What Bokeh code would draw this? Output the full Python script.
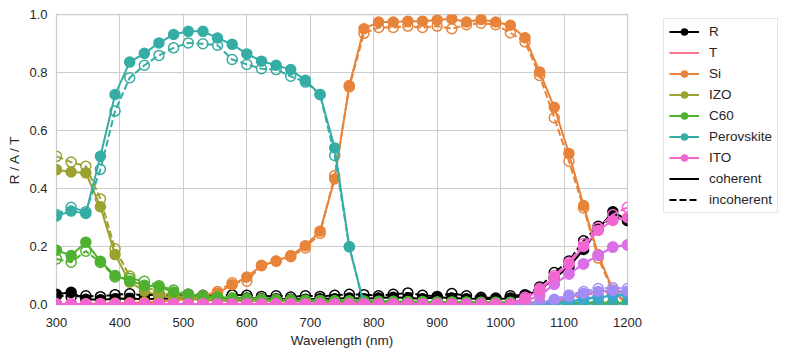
from bokeh.plotting import figure
from bokeh.models import Legend, LegendItem, Range1d, NumeralTickFormatter, FixedTicker
from bokeh.embed import file_html
from bokeh.resources import INLINE

wavelength = [300.0, 323.1, 346.2, 369.2, 392.3, 415.4, 438.5, 461.5, 484.6, 507.7,
              530.8, 553.8, 576.9, 600.0, 623.1, 646.2, 669.2, 692.3, 715.4, 738.5,
              761.5, 784.6, 807.7, 830.8, 853.8, 876.9, 900.0, 923.1, 946.2, 969.2,
              992.3, 1015.4, 1038.5, 1061.5, 1084.6, 1107.7, 1130.8, 1153.8, 1176.9, 1200.0]

R_coh = [0.035, 0.042, 0.018, 0.016, 0.020, 0.021, 0.018, 0.020, 0.021, 0.022,
         0.020, 0.022, 0.020, 0.022, 0.020, 0.020, 0.018, 0.018, 0.020, 0.020,
         0.022, 0.020, 0.022, 0.025, 0.022, 0.020, 0.025, 0.022, 0.020, 0.020,
         0.018, 0.022, 0.030, 0.050, 0.090, 0.130, 0.190, 0.260, 0.320, 0.290]
R_inc = [0.030, 0.028, 0.030, 0.027, 0.034, 0.037, 0.031, 0.036, 0.030, 0.035,
         0.032, 0.030, 0.033, 0.032, 0.028, 0.030, 0.026, 0.030, 0.028, 0.032,
         0.035, 0.034, 0.030, 0.035, 0.040, 0.032, 0.028, 0.038, 0.030, 0.025,
         0.022, 0.030, 0.034, 0.060, 0.110, 0.150, 0.220, 0.270, 0.300, 0.290]

T_coh = [0, 0, 0, 0, 0, 0, 0, 0, 0, 0,
         0, 0, 0, 0, 0, 0, 0, 0, 0, 0,
         0, 0, 0, 0, 0, 0, 0, 0, 0, 0,
         0, 0, 0, 0.003, 0.010, 0.025, 0.038, 0.045, 0.047, 0.045]
T_inc = [0, 0, 0, 0, 0, 0, 0, 0, 0, 0,
         0, 0, 0, 0, 0, 0, 0, 0, 0, 0,
         0, 0, 0, 0, 0, 0, 0, 0, 0, 0,
         0, 0, 0, 0.002, 0.008, 0.020, 0.032, 0.040, 0.043, 0.042]

Si_coh = [0.002, 0.002, 0.002, 0.003, 0.004, 0.005, 0.007, 0.010, 0.015, 0.020,
          0.030, 0.040, 0.068, 0.095, 0.134, 0.149, 0.169, 0.203, 0.253, 0.433,
          0.755, 0.951, 0.974, 0.974, 0.977, 0.977, 0.981, 0.985, 0.974, 0.983,
          0.974, 0.963, 0.920, 0.802, 0.680, 0.521, 0.341, 0.172, 0.050, 0.000]
Si_inc = [0.002, 0.002, 0.002, 0.003, 0.004, 0.005, 0.007, 0.010, 0.015, 0.020,
          0.030, 0.045, 0.075, 0.080, 0.135, 0.150, 0.165, 0.195, 0.245, 0.445,
          0.750, 0.935, 0.955, 0.955, 0.960, 0.955, 0.960, 0.951, 0.965, 0.970,
          0.965, 0.937, 0.905, 0.790, 0.644, 0.494, 0.333, 0.160, 0.045, 0.000]

IZO_coh = [0.465, 0.457, 0.454, 0.337, 0.172, 0.077, 0.046, 0.032, 0.025, 0.020,
           0.015, 0.013, 0.012, 0.012, 0.011, 0.010, 0.010, 0.010, 0.009, 0.009,
           0.008, 0.008, 0.008, 0.007, 0.007, 0.007, 0.006, 0.006, 0.006, 0.006,
           0.005, 0.005, 0.005, 0.005, 0.005, 0.005, 0.005, 0.005, 0.005, 0.005]
IZO_inc = [0.511, 0.491, 0.477, 0.364, 0.192, 0.098, 0.063, 0.042, 0.032, 0.025,
           0.020, 0.018, 0.016, 0.015, 0.014, 0.013, 0.012, 0.012, 0.011, 0.011,
           0.010, 0.010, 0.009, 0.009, 0.009, 0.008, 0.008, 0.008, 0.007, 0.007,
           0.007, 0.006, 0.006, 0.006, 0.006, 0.006, 0.006, 0.006, 0.006, 0.006]

C60_coh = [0.187, 0.169, 0.215, 0.149, 0.100, 0.081, 0.066, 0.061, 0.043, 0.031,
           0.028, 0.025, 0.022, 0.020, 0.018, 0.016, 0.015, 0.014, 0.013, 0.012,
           0.012, 0.011, 0.010, 0.010, 0.009, 0.009, 0.008, 0.008, 0.008, 0.007,
           0.007, 0.007, 0.006, 0.006, 0.006, 0.006, 0.006, 0.006, 0.005, 0.005]
C60_inc = [0.157, 0.146, 0.184, 0.145, 0.095, 0.090, 0.080, 0.065, 0.050, 0.035,
           0.030, 0.026, 0.022, 0.020, 0.018, 0.017, 0.016, 0.015, 0.014, 0.013,
           0.012, 0.012, 0.011, 0.011, 0.010, 0.010, 0.009, 0.009, 0.009, 0.008,
           0.008, 0.008, 0.007, 0.007, 0.007, 0.007, 0.007, 0.006, 0.006, 0.006]

Perovskite_coh = [0.305, 0.322, 0.314, 0.511, 0.724, 0.836, 0.866, 0.902, 0.931, 0.942,
                  0.942, 0.919, 0.897, 0.864, 0.839, 0.825, 0.810, 0.773, 0.724, 0.540,
                  0.199, 0.000, 0, 0, 0, 0, 0, 0, 0, 0,
                  0, 0, 0, 0, 0, 0, 0, 0, 0, 0]
Perovskite_inc = [0.310, 0.335, 0.320, 0.466, 0.667, 0.782, 0.825, 0.859, 0.885, 0.902,
                  0.899, 0.894, 0.845, 0.828, 0.813, 0.810, 0.787, 0.767, 0.724, 0.514,
                  0.199, 0.000, 0, 0, 0, 0, 0, 0, 0, 0,
                  0, 0, 0, 0, 0, 0, 0, 0, 0, 0]

Blue_coh = [0, 0, 0, 0, 0, 0, 0, 0, 0, 0,
            0, 0, 0, 0, 0, 0, 0, 0, 0, 0,
            0, 0, 0, 0, 0, 0, 0, 0, 0, 0,
            0, 0, 0, 0, 0.005, 0.010, 0.018, 0.024, 0.030, 0.033]
Blue_inc = [0, 0, 0, 0, 0, 0, 0, 0, 0, 0,
            0, 0, 0, 0, 0, 0, 0, 0, 0, 0,
            0, 0, 0, 0, 0, 0, 0, 0, 0, 0,
            0, 0, 0, 0, 0.006, 0.012, 0.020, 0.027, 0.033, 0.036]
Lavender_coh = [0, 0, 0, 0, 0, 0, 0, 0, 0, 0,
                0, 0, 0, 0, 0, 0, 0, 0, 0, 0,
                0, 0, 0, 0, 0, 0, 0, 0, 0, 0,
                0, 0, 0, 0.005, 0.015, 0.028, 0.038, 0.045, 0.048, 0.046]
Lavender_inc = [0, 0, 0, 0, 0, 0, 0, 0, 0, 0,
                0, 0, 0, 0, 0, 0, 0, 0, 0, 0,
                0, 0, 0, 0, 0, 0, 0, 0, 0, 0,
                0, 0, 0, 0.006, 0.018, 0.033, 0.045, 0.055, 0.058, 0.055]
Violet_coh = [0, 0, 0, 0, 0, 0, 0, 0, 0, 0,
              0, 0, 0, 0, 0, 0, 0, 0, 0, 0,
              0, 0, 0, 0, 0, 0, 0, 0, 0, 0,
              0, 0, 0.012, 0.030, 0.070, 0.105, 0.140, 0.170, 0.198, 0.205]
Violet_inc = [0, 0, 0, 0, 0, 0, 0, 0, 0, 0,
              0, 0, 0, 0, 0, 0, 0, 0, 0, 0,
              0, 0, 0, 0, 0, 0, 0, 0, 0, 0,
              0, 0, 0.012, 0.030, 0.070, 0.105, 0.140, 0.170, 0.198, 0.205]

ITO_coh = [0.002, 0.002, 0.002, 0.002, 0.002, 0.002, 0.002, 0.002, 0.002, 0.002,
           0.002, 0.002, 0.002, 0.002, 0.002, 0.002, 0.002, 0.002, 0.002, 0.002,
           0.002, 0.002, 0.002, 0.002, 0.002, 0.002, 0.002, 0.002, 0.002, 0.002,
           0.002, 0.002, 0.020, 0.050, 0.095, 0.140, 0.200, 0.255, 0.290, 0.300]
ITO_inc = [0.002, 0.002, 0.002, 0.002, 0.002, 0.002, 0.002, 0.002, 0.002, 0.002,
           0.002, 0.002, 0.002, 0.002, 0.002, 0.002, 0.002, 0.002, 0.002, 0.002,
           0.002, 0.002, 0.002, 0.002, 0.002, 0.002, 0.002, 0.002, 0.002, 0.002,
           0.002, 0.002, 0.025, 0.055, 0.100, 0.145, 0.210, 0.265, 0.310, 0.335]

x_ticks = [300, 400, 500, 600, 700, 800, 900, 1000, 1100, 1200]
y_ticks = [0.0, 0.2, 0.4, 0.6, 0.8, 1.0]

# name, coherent, incoherent, colour, markers, in legend
series = [
    ("R", R_coh, R_inc, "#000000", True, True),
    ("T", T_coh, T_inc, "#f77189", False, True),
    ("Si", Si_coh, Si_inc, "#e8833a", True, True),
    ("IZO", IZO_coh, IZO_inc, "#9ba22f", True, True),
    ("C60", C60_coh, C60_inc, "#50b131", True, True),
    ("Perovskite", Perovskite_coh, Perovskite_inc, "#36ada4", True, True),
    ("blue", Blue_coh, Blue_inc, "#39a7d0", True, False),
    ("lavender", Lavender_coh, Lavender_inc, "#a48cf4", True, False),
    ("violet", Violet_coh, Violet_inc, "#da70e8", True, False),
    ("ITO", ITO_coh, ITO_inc, "#f366d0", True, True),
]

FONT = "Liberation Sans"
TXT = "#262626"

p = figure(frame_width=571, frame_height=290,
           x_range=Range1d(300, 1200), y_range=Range1d(0, 1),
           output_backend="svg", toolbar_location=None,
           min_border_left=56, min_border_top=14, min_border_bottom=46,
           min_border_right=0, background_fill_color="white",
           border_fill_color="white")

p.outline_line_color = "#cccccc"
p.outline_line_width = 1.25
p.xgrid.grid_line_color = "#cccccc"
p.ygrid.grid_line_color = "#cccccc"
p.xgrid.grid_line_width = 1
p.ygrid.grid_line_width = 1

p.xaxis.ticker = FixedTicker(ticks=x_ticks)
p.yaxis.ticker = FixedTicker(ticks=y_ticks)
p.yaxis.formatter = NumeralTickFormatter(format="0.0")
for ax in (p.xaxis[0], p.yaxis[0]):
    ax.axis_line_color = None
    ax.major_tick_line_color = None
    ax.minor_tick_line_color = None
    ax.major_tick_out = 0
    ax.major_tick_in = 0
    ax.minor_tick_out = 0
    ax.major_label_text_font = FONT
    ax.major_label_text_font_size = "13px"
    ax.major_label_text_color = TXT
    ax.axis_label_text_font = FONT
    ax.axis_label_text_font_size = "13.5px"
    ax.axis_label_text_font_style = "normal"
    ax.axis_label_text_color = TXT
p.xaxis.major_label_standoff = 13
p.yaxis.major_label_standoff = 9
p.xaxis.axis_label = "Wavelength (nm)"
p.yaxis.axis_label = "R / A / T"
p.xaxis.axis_label_standoff = 3
p.yaxis.axis_label_standoff = 4

renderers = {}
for name, coh, inc, col, markers, in_legend in series:
    for vals, mode, dash, filled in ((coh, "coh", "solid", True), (inc, "inc", "7 3", False)):
        lr = p.line(wavelength, vals, line_color=col, line_width=2, line_dash=dash)
        rs = [lr]
        if markers:
            sr = p.scatter(wavelength, vals, marker="circle", size=10,
                           line_color=col, line_width=1.5,
                           fill_color=col if filled else None)
            rs.append(sr)
        renderers[(name, mode)] = rs

legend_items = []
for name, coh, inc, col, markers, in_legend in series:
    if in_legend:
        legend_items.append(LegendItem(label=name, renderers=renderers[(name, "coh")]))
legend_items.append(LegendItem(label="coherent", renderers=[renderers[("R", "coh")][0]]))
legend_items.append(LegendItem(label="incoherent", renderers=[renderers[("R", "inc")][0]]))

legend = Legend(items=legend_items, location=(36, 91))
legend.border_line_color = "#cccccc"
legend.border_line_width = 1
legend.background_fill_color = "white"
legend.background_fill_alpha = 1
legend.label_text_font = FONT
legend.label_text_font_size = "13.5px"
legend.label_text_color = TXT
legend.glyph_width = 30
legend.glyph_height = 15
legend.label_height = 15
legend.spacing = 6
legend.padding = 5
legend.label_standoff = 10
legend.margin = 3
p.add_layout(legend, "right")

open("out.html", "w").write(file_html(p, INLINE))
